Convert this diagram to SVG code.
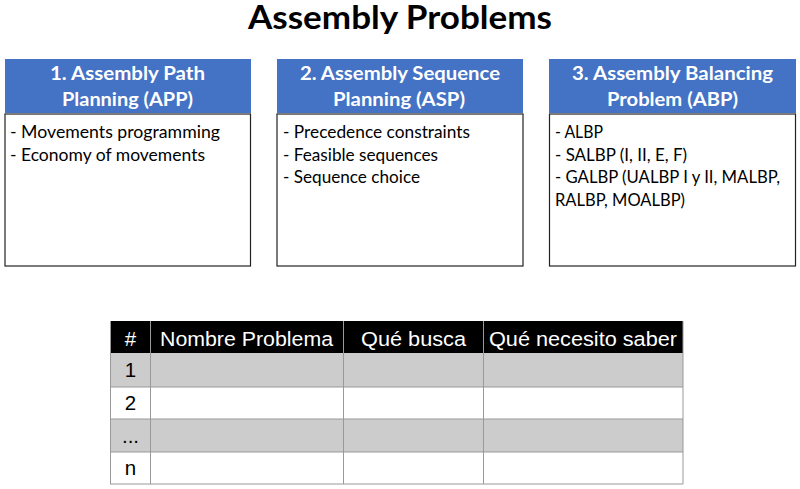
<svg xmlns="http://www.w3.org/2000/svg" width="800" height="489" viewBox="0 0 800 489">
<style>
.title{font-family:Lato,"Open Sans",sans-serif;font-weight:bold;font-size:32px;fill:#000}
.hdr{fill:#4472C4}
.hdrt{font-family:Lato,"Open Sans",sans-serif;font-weight:bold;font-size:19px;fill:#fff}
.body{fill:#fff;stroke:#222;stroke-width:1.2}
.bt{font-family:Lato,"Open Sans",sans-serif;font-size:17px;fill:#000}
.th{fill:#000}
.tht{font-family:"Liberation Sans",Arial,sans-serif;font-size:20.5px;fill:#fff}
.td{font-family:"Liberation Sans",Arial,sans-serif;font-size:20.5px;fill:#000}
.grid{stroke:#999;stroke-width:1;fill:none}
</style>
<rect width="800" height="489" fill="#fff"/>
<text class="title" x="248" y="28.5" textLength="304" lengthAdjust="spacingAndGlyphs">Assembly Problems</text>

<g id="app">
<rect class="hdr" x="5" y="59" width="246" height="54"/>
<text class="hdrt" x="50" y="79.5" textLength="155" lengthAdjust="spacingAndGlyphs">1. Assembly Path</text>
<text class="hdrt" x="62" y="105.5" textLength="131" lengthAdjust="spacingAndGlyphs">Planning (APP)</text>
<rect class="body" x="5" y="114" width="245.5" height="152"/>
<text class="bt" x="10" y="138" textLength="210" lengthAdjust="spacingAndGlyphs">- Movements programming</text>
<text class="bt" x="10" y="160.5" textLength="195" lengthAdjust="spacingAndGlyphs">- Economy of movements</text>
</g>

<g id="asp">
<rect class="hdr" x="277" y="59" width="246" height="54"/>
<text class="hdrt" x="300" y="79.5" textLength="200" lengthAdjust="spacingAndGlyphs">2. Assembly Sequence</text>
<text class="hdrt" x="333" y="105.5" textLength="132" lengthAdjust="spacingAndGlyphs">Planning (ASP)</text>
<rect class="body" x="277" y="114" width="246" height="152"/>
<text class="bt" x="283" y="138" textLength="187" lengthAdjust="spacingAndGlyphs">- Precedence constraints</text>
<text class="bt" x="283" y="160.5" textLength="155" lengthAdjust="spacingAndGlyphs">- Feasible sequences</text>
<text class="bt" x="283" y="183" textLength="137" lengthAdjust="spacingAndGlyphs">- Sequence choice</text>
</g>

<g id="abp">
<rect class="hdr" x="549" y="59" width="247" height="54"/>
<text class="hdrt" x="572" y="79.5" textLength="201" lengthAdjust="spacingAndGlyphs">3. Assembly Balancing</text>
<text class="hdrt" x="607" y="105.5" textLength="131" lengthAdjust="spacingAndGlyphs">Problem (ABP)</text>
<rect class="body" x="549.5" y="114" width="246" height="152"/>
<text class="bt" x="555" y="138" textLength="48" lengthAdjust="spacingAndGlyphs">- ALBP</text>
<text class="bt" x="555" y="160.5" textLength="132" lengthAdjust="spacingAndGlyphs">- SALBP (I, II, E, F)</text>
<text class="bt" x="555" y="183" textLength="225" lengthAdjust="spacingAndGlyphs">- GALBP (UALBP I y II, MALBP,</text>
<text class="bt" x="555" y="205.5" textLength="130" lengthAdjust="spacingAndGlyphs">RALBP, MOALBP)</text>
</g>

<g id="table">
<rect class="th" x="110" y="321" width="573" height="32"/>
<rect x="110" y="353" width="573" height="34" fill="#cccccc"/>
<rect x="110" y="387" width="573" height="32" fill="#fff"/>
<rect x="110" y="419" width="573" height="33" fill="#cccccc"/>
<rect x="110" y="452" width="573" height="32" fill="#fff"/>
<g class="grid">
<line x1="110" y1="387" x2="683" y2="387"/>
<line x1="110" y1="419" x2="683" y2="419"/>
<line x1="110" y1="452" x2="683" y2="452"/>
<line x1="110" y1="484" x2="683" y2="484"/>
<line x1="110.5" y1="321" x2="110.5" y2="484"/>
<line x1="150.5" y1="321" x2="150.5" y2="484"/>
<line x1="343.5" y1="321" x2="343.5" y2="484"/>
<line x1="483.5" y1="321" x2="483.5" y2="484"/>
<line x1="683" y1="321" x2="683" y2="484"/>
</g>
<text class="tht" x="130.5" y="345.5" text-anchor="middle">#</text>
<text class="tht" x="160" y="345.5" textLength="173" lengthAdjust="spacingAndGlyphs">Nombre Problema</text>
<text class="tht" x="361" y="345.5" textLength="105" lengthAdjust="spacingAndGlyphs">Qué busca</text>
<text class="tht" x="489" y="345.5" textLength="188" lengthAdjust="spacingAndGlyphs">Qué necesito saber</text>
<text class="td" x="130.5" y="377" text-anchor="middle">1</text>
<text class="td" x="130.5" y="409.5" text-anchor="middle">2</text>
<text class="td" x="130.5" y="442.5" text-anchor="middle">...</text>
<text class="td" x="130.5" y="475" text-anchor="middle">n</text>
</g>
</svg>
